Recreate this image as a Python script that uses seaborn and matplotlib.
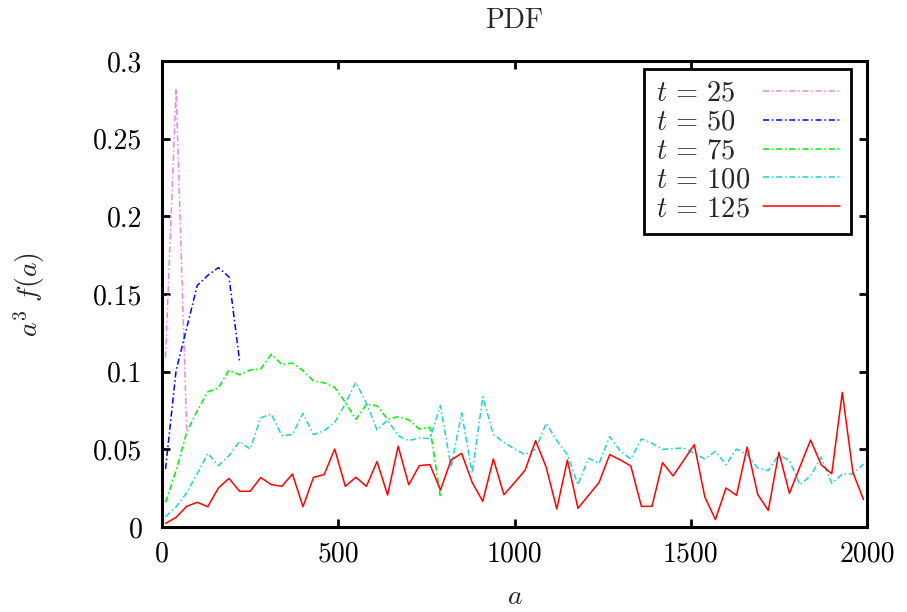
import matplotlib
matplotlib.use("Agg")
import matplotlib.pyplot as plt
import seaborn as sns
import pandas as pd

# ---- data ----
a_bins = [10, 40, 70, 100, 130, 160, 190, 220, 250, 280, 310, 340, 370, 400,
          430, 460, 490, 520, 550, 580, 610, 640, 670, 700, 730, 760, 790,
          820, 850, 880, 910, 940, 970, 1000, 1030, 1060, 1090, 1120, 1150,
          1180, 1210, 1240, 1270, 1300, 1330, 1360, 1390, 1420, 1450, 1480,
          1510, 1540, 1570, 1600, 1630, 1660, 1690, 1720, 1750, 1780, 1810,
          1840, 1870, 1900, 1930, 1960, 1990]

f_t25 = [0.109, 0.282, 0.063]
f_t50 = [0.0374, 0.1007, 0.128, 0.1555, 0.162, 0.167, 0.161, 0.107]
f_t75 = [0.0159, 0.0363, 0.0609, 0.0749, 0.0870, 0.0895, 0.1009, 0.0980,
         0.1011, 0.1017, 0.1112, 0.1046, 0.1055, 0.1007, 0.0940, 0.0928,
         0.0899, 0.0803, 0.0693, 0.0790, 0.0781, 0.0693, 0.0710, 0.0690,
         0.0631, 0.0642, 0.0191]
f_t100 = [0.0066, 0.0130, 0.0220, 0.0343, 0.0474, 0.0395, 0.0459, 0.0550,
          0.0502, 0.0702, 0.0728, 0.0588, 0.0595, 0.0732, 0.0595, 0.0620,
          0.0674, 0.0792, 0.0932, 0.0797, 0.0625, 0.0689, 0.0588, 0.0556,
          0.0573, 0.0569, 0.0782, 0.0384, 0.0735, 0.0346, 0.0838, 0.0596,
          0.0545, 0.0502, 0.0466, 0.0502, 0.0668, 0.0556, 0.0466, 0.0272,
          0.0442, 0.0410, 0.0582, 0.0490, 0.0438, 0.0567, 0.0539, 0.0500,
          0.0504, 0.0509, 0.0474, 0.0438, 0.0487, 0.0401, 0.0502, 0.0466,
          0.0380, 0.0363, 0.0466, 0.0427, 0.0272, 0.0330, 0.0449, 0.0281,
          0.0341, 0.0341, 0.0406]
f_t125 = [0.0023, 0.0062, 0.0133, 0.0159, 0.0131, 0.0251, 0.0313, 0.0230,
          0.0230, 0.0318, 0.0273, 0.0262, 0.0341, 0.0131, 0.0320, 0.0337,
          0.0502, 0.0262, 0.0320, 0.0262, 0.0421, 0.0206, 0.0520, 0.0272,
          0.0395, 0.0402, 0.0238, 0.0431, 0.0474, 0.0287, 0.0165, 0.0438,
          0.0208, 0.0285, 0.0365, 0.0556, 0.0384, 0.0116, 0.0431, 0.0120,
          0.0204, 0.0287, 0.0466, 0.0432, 0.0393, 0.0133, 0.0133, 0.0414,
          0.0329, 0.0430, 0.0530, 0.0193, 0.0048, 0.0251, 0.0204, 0.0515,
          0.0210, 0.0107, 0.0481, 0.0217, 0.0389, 0.0560, 0.0401, 0.0343,
          0.0867, 0.0352, 0.0177]

series_labels = [r"$t\,=\,25$", r"$t\,=\,50$", r"$t\,=\,75$",
                 r"$t\,=\,100$", r"$t\,=\,125$"]
series_values = [f_t25, f_t50, f_t75, f_t100, f_t125]
series_colors = ["#ee82ee", "#0000ff", "#00ee00", "#1cd2d2", "#ff0000"]
series_dashes = [(4, 1.8, 1, 1.8)] * 4 + [None]

x_ticks = [0, 500, 1000, 1500, 2000]
x_ticklabels = ["0", "500", "1000", "1500", "2000"]
y_ticks = [0, 0.05, 0.1, 0.15, 0.2, 0.25, 0.3]
y_ticklabels = ["0", "0.05", "0.1", "0.15", "0.2", "0.25", "0.3"]

# ---- style ----
sns.set_theme(style="ticks")
plt.rcParams["font.family"] = ["cmr10", "DejaVu Serif"]
plt.rcParams["mathtext.fontset"] = "cm"
plt.rcParams["axes.formatter.use_mathtext"] = True
plt.rcParams["axes.unicode_minus"] = False

fig = plt.figure(figsize=(9.07, 6.12), dpi=100)
ax = fig.add_axes([162 / 907, 1 - 527 / 612, 705 / 907, 466 / 612])

for lab, vals, col, dsh in zip(series_labels, series_values, series_colors, series_dashes):
    df = pd.DataFrame({"a": a_bins[:len(vals)], "f": vals})
    sns.lineplot(data=df, x="a", y="f", ax=ax, sort=False, estimator=None,
                 color=col, linewidth=1.1, label=lab)
    if dsh is not None:
        ax.get_lines()[-1].set_dashes(dsh)

ax.set_xlim(0, 2000)
ax.set_ylim(0, 0.3)
ax.set_xticks(x_ticks)
ax.set_xticklabels(x_ticklabels)
ax.set_yticks(y_ticks)
ax.set_yticklabels(y_ticklabels)

for sp in ax.spines.values():
    sp.set_visible(True)
    sp.set_linewidth(2.2)
    sp.set_color("black")

ax.tick_params(axis="both", which="major", direction="in", length=6, width=2,
               labelsize=20, top=True, right=True, colors="black")
ax.tick_params(axis="y", pad=14)
ax.tick_params(axis="x", pad=10)

ax.set_xlabel(r"$a$", fontsize=20, labelpad=12)
ax.set_ylabel(r"$a^3\ f(a)$", fontsize=20, labelpad=33)
ax.set_title("PDF", fontsize=20, pad=24)

leg = ax.legend(loc="upper right", bbox_to_anchor=(689 / 705, 458 / 466),
                borderaxespad=0, markerfirst=False, fontsize=20.5,
                handlelength=2.7, handletextpad=0.45, labelspacing=0.09,
                borderpad=0.4, fancybox=False, frameon=True)
leg.get_frame().set_edgecolor("black")
leg.get_frame().set_linewidth(2.0)
leg.get_frame().set_alpha(1)

# left-align legend texts (gnuplot style) while keeping samples aligned
fig.canvas.draw()
renderer = fig.canvas.get_renderer()
widths = [t.get_window_extent(renderer).width for t in leg.get_texts()]
maxw = max(widths)
column = leg._legend_handle_box.get_children()[0]
column.align = "left"
for row, w in zip(column.get_children(), widths):
    row.sep += (maxw - w) * 72.0 / fig.dpi

fig.savefig("out.png", dpi=100, facecolor="white")
